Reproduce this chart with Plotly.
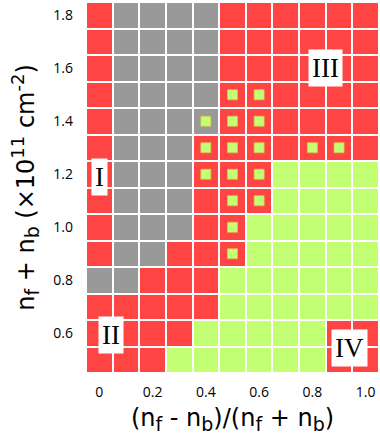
import plotly.graph_objects as go

x_vals = [0.0, 0.1, 0.2, 0.3, 0.4, 0.5, 0.6, 0.7, 0.8, 0.9, 1.0]
y_vals = [1.8, 1.7, 1.6, 1.5, 1.4, 1.3, 1.2, 1.1, 1.0, 0.9, 0.8, 0.7, 0.6, 0.5]
# R = red phase, G = gray phase, L = lime phase
phase_rows = [
    "RGGGGRRRRRR",
    "RGGGGRRRRRR",
    "RGGGGRRRRRR",
    "RGGGGRRRRRR",
    "RGGGGRRRRRR",
    "RGGGRRRRRRR",
    "RGGGRRRLLLL",
    "RGGGRRRLLLL",
    "RGGGRRLLLLL",
    "RGGRRRLLLLL",
    "GGRRRLLLLLL",
    "RRRRRLLLLLL",
    "RRRRLLLLLRR",
    "RRRLLLLLLRR",
]
dot_x = [0.5, 0.6, 0.4, 0.5, 0.6, 0.4, 0.5, 0.6, 0.8, 0.9, 0.4, 0.5, 0.6, 0.5, 0.6, 0.5, 0.5]
dot_y = [1.5, 1.5, 1.4, 1.4, 1.4, 1.3, 1.3, 1.3, 1.3, 1.3, 1.2, 1.2, 1.2, 1.1, 1.1, 1.0, 0.9]
labels = ["I", "II", "III", "IV"]
label_x = [0.0, 0.045, 0.85, 0.94]
label_y = [1.19, 0.595, 1.6, 0.545]
x_ticks = [0.0, 0.2, 0.4, 0.6, 0.8, 1.0]
x_ticktext = ["0", "0.2", "0.4", "0.6", "0.8", "1.0"]
y_ticks = [0.6, 0.8, 1.0, 1.2, 1.4, 1.6, 1.8]
y_ticktext = ["0.6", "0.8", "1.0", "1.2", "1.4", "1.6", "1.8"]

RED = "#FF4444"
GRAY = "#999999"
LIME = "#C2FF73"
code = {"G": 0, "R": 1, "L": 2}
z = [[code[c] for c in row] for row in phase_rows]


def sub(s):
    return '<sub><span style="font-size:19px">' + s + '</span></sub>'


def sup(s):
    return '<sup><span style="font-size:18px">' + s + '</span></sup>'


x_title = "(n" + sub("f") + " - n" + sub("b") + ")/(n" + sub("f") + " + n" + sub("b") + ")"
y_title = "n" + sub("f") + " + n" + sub("b") + " (×10" + sup("11") + " cm" + sup("-2") + ")"

fig = go.Figure()
fig.add_trace(go.Heatmap(
    x=x_vals, y=y_vals, z=z, zmin=0, zmax=2,
    colorscale=[[0, GRAY], [0.333, GRAY], [0.334, RED], [0.666, RED], [0.667, LIME], [1, LIME]],
    showscale=False, xgap=2, ygap=2, hoverinfo="skip",
))
fig.add_trace(go.Scatter(
    x=dot_x, y=dot_y, mode="markers",
    marker=dict(symbol="square", size=10, color=LIME, line=dict(color="#D8C050", width=0.8)),
    hoverinfo="skip", showlegend=False,
))
for t, lx, ly in zip(labels, label_x, label_y):
    fig.add_annotation(x=lx, y=ly, text=t, showarrow=False,
                       font=dict(family="Liberation Serif, DejaVu Serif", size=27, color="black"),
                       bgcolor="white", borderpad=3)

fig.update_layout(
    width=380, height=446,
    margin=dict(l=86, r=1, t=2, b=73),
    paper_bgcolor="white", plot_bgcolor="white",
    showlegend=False,
    font=dict(family="Open Sans", color="black"),
)
fig.update_xaxes(range=[-0.05, 1.05], tickvals=x_ticks, ticktext=x_ticktext, automargin=False,
                 tickfont=dict(size=14), showgrid=False, zeroline=False, ticks="",
                 ticklabelstandoff=9,
                 title=dict(text=x_title, font=dict(family="DejaVu Sans", size=24), standoff=9))
fig.update_yaxes(range=[0.45, 1.85], tickvals=y_ticks, ticktext=y_ticktext, automargin=False,
                 tickfont=dict(size=14), showgrid=False, zeroline=False, ticks="",
                 ticklabelstandoff=12,
                 title=dict(text=y_title, font=dict(family="DejaVu Sans", size=24), standoff=11))
fig.write_html("out.html", config={"displayModeBar": False},
               post_script="document.body.style.margin='0';document.body.style.overflow='hidden';")
